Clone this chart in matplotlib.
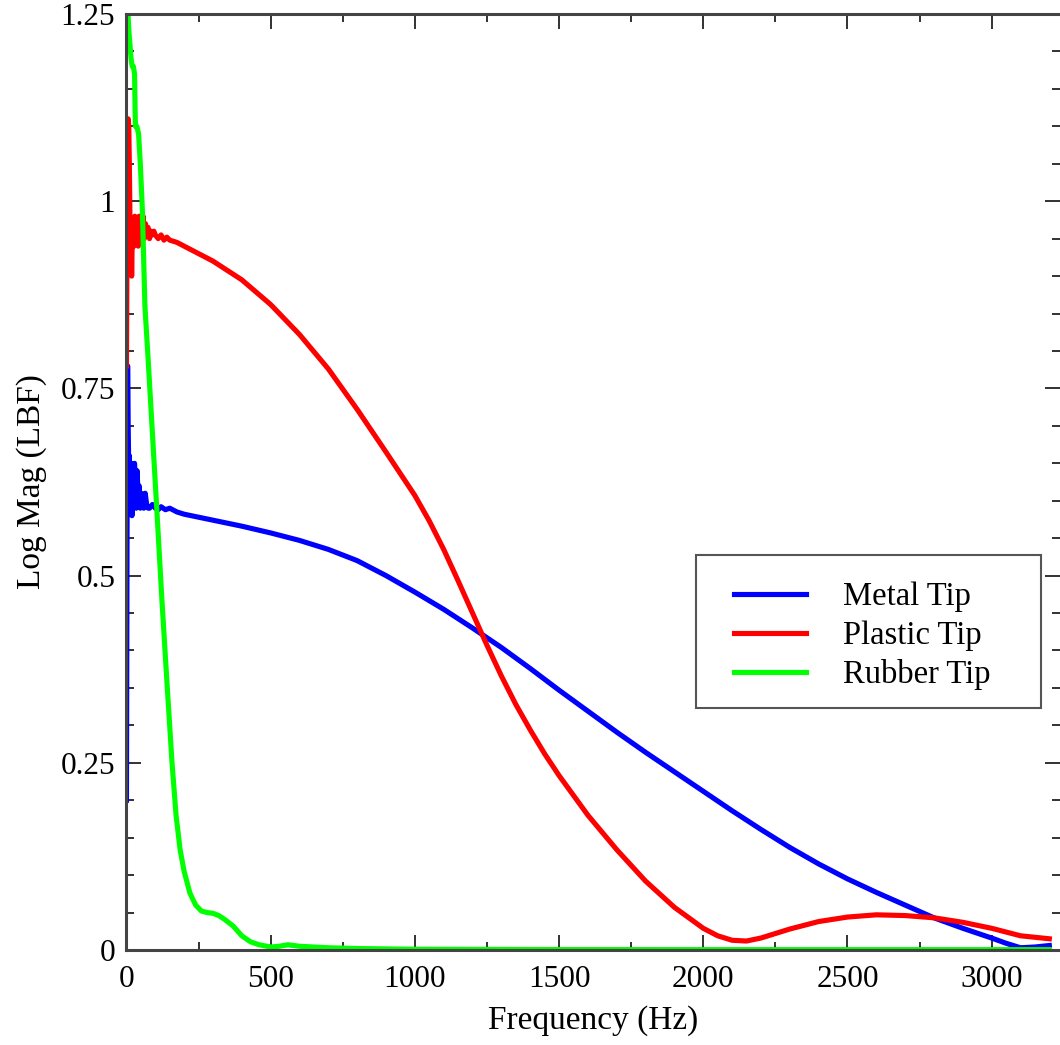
import matplotlib.pyplot as plt
from matplotlib.patches import Rectangle

plt.rcParams['font.family'] = ['Liberation Serif', 'DejaVu Serif']

# impact hammer tip spectra, read in Hz / log magnitude
metal_hz = [0, 2, 4, 6, 8, 10, 13, 16, 19, 22, 25, 28, 31, 34, 37, 40, 44, 48,
            52, 56, 60, 65, 70, 75, 80, 90, 100, 110, 120, 135, 150, 175, 200,
            250, 300, 400, 500, 600, 700, 800, 900, 1000, 1100, 1200, 1300,
            1400, 1500, 1600, 1700, 1800, 1900, 2000, 2100, 2200, 2300, 2400,
            2500, 2600, 2700, 2800, 2900, 3000, 3050, 3100, 3150, 3200]
metal_mag = [0.20, 0.55, 0.78, 0.70, 0.64, 0.66, 0.62, 0.65, 0.58, 0.64, 0.62,
             0.65, 0.63, 0.59, 0.64, 0.61, 0.62, 0.59, 0.61, 0.60, 0.59, 0.61,
             0.595, 0.59, 0.59, 0.595, 0.59, 0.588, 0.592, 0.588, 0.590, 0.585,
             0.582, 0.578, 0.574, 0.566, 0.557, 0.547, 0.535, 0.52, 0.50,
             0.478, 0.455, 0.43, 0.404, 0.376, 0.347, 0.319, 0.291, 0.264,
             0.238, 0.212, 0.186, 0.161, 0.137, 0.115, 0.095, 0.077, 0.06,
             0.043, 0.029, 0.016, 0.009, 0.003, 0.004, 0.006]

plastic_hz = [0, 2, 4, 6, 8, 10, 12, 14, 16, 18, 20, 23, 26, 29, 32, 35, 38, 41,
              44, 47, 50, 54, 58, 62, 66, 70, 75, 80, 85, 90, 95, 100, 110, 120,
              130, 140, 150, 175, 200, 250, 300, 400, 500, 600, 700, 800, 900,
              1000, 1050, 1100, 1150, 1200, 1250, 1300, 1350, 1400, 1450, 1500,
              1600, 1700, 1800, 1900, 2000, 2050, 2100, 2150, 2200, 2300, 2400,
              2500, 2600, 2700, 2800, 2900, 3000, 3100, 3200]
plastic_mag = [0.78, 0.95, 1.08, 1.11, 1.10, 1.05, 0.98, 0.92, 0.97, 0.90, 0.95,
               0.97, 0.94, 0.98, 0.96, 0.95, 0.97, 0.94, 0.98, 0.95, 0.97, 0.96,
               0.98, 0.95, 0.97, 0.96, 0.965, 0.95, 0.96, 0.955, 0.96, 0.955,
               0.95, 0.955, 0.948, 0.952, 0.948, 0.945, 0.94, 0.93, 0.92, 0.895,
               0.862, 0.822, 0.776, 0.722, 0.665, 0.607, 0.573, 0.535, 0.493,
               0.450, 0.407, 0.366, 0.328, 0.294, 0.262, 0.233, 0.180, 0.134,
               0.092, 0.057, 0.029, 0.019, 0.013, 0.012, 0.016, 0.028, 0.038,
               0.044, 0.047, 0.046, 0.043, 0.037, 0.029, 0.019, 0.015]

rubber_hz = [0, 4, 8, 12, 16, 20, 24, 28, 31, 36, 42, 48, 55, 64, 75, 90, 105,
             123, 140, 158, 172, 186, 200, 220, 240, 260, 280, 300, 320, 340,
             370, 400, 430, 460, 500, 530, 560, 600, 650, 700, 800, 1000, 1500,
             2000, 2500, 3000, 3200]
rubber_mag = [1.30, 1.26, 1.23, 1.21, 1.19, 1.18, 1.18, 1.17, 1.10, 1.10, 1.09,
              1.05, 0.99, 0.86, 0.79, 0.69, 0.59, 0.467, 0.36, 0.25, 0.18,
              0.134, 0.105, 0.076, 0.06, 0.052, 0.05, 0.049, 0.046, 0.041,
              0.032, 0.019, 0.011, 0.007, 0.004, 0.005, 0.007, 0.005, 0.004,
              0.003, 0.002, 0.001, 0.0006, 0.0005, 0.0005, 0.0005, 0.0005]

labels = ['Metal Tip', 'Plastic Tip', 'Rubber Tip']
colors = ['#0000ff', '#ff0000', '#00ff00']

fig = plt.figure(figsize=(10.6, 10.45), dpi=100)
ax = fig.add_axes([0.1193, 0.0909, 0.8807, 0.8957])

lines = []
for hz, mag, c in zip([metal_hz, plastic_hz, rubber_hz],
                      [metal_mag, plastic_mag, rubber_mag], colors):
    ln, = ax.plot(hz, mag, color=c, lw=3.7, solid_joinstyle='round')
    lines.append(ln)

ax.set_xlim(0, 3237)
ax.set_ylim(0, 1.25)
ax.set_xticks([0, 500, 1000, 1500, 2000, 2500, 3000])
ax.set_xticks(range(250, 3237, 500), minor=True)
ax.set_yticks([0, 0.25, 0.5, 0.75, 1, 1.25])
ax.set_yticklabels(['0', '0.25', '0.5', '0.75', '1', '1.25'])
ax.set_yticks([i * 0.05 for i in range(26)], minor=True)

ax.tick_params(which='both', direction='in', top=True, right=True,
               labelsize=22.5, width=1.3, color='#222222')
ax.tick_params(which='major', length=11)
ax.tick_params(which='minor', length=5.5)
ax.tick_params(axis='x', pad=11)
ax.tick_params(axis='y', pad=8)
for side in ['left', 'bottom', 'top']:
    ax.spines[side].set_linewidth(2.2)
    ax.spines[side].set_color('#444444')
ax.spines['right'].set_visible(False)

ax.set_xlabel('Frequency (Hz)', fontsize=24, labelpad=8)
ax.set_ylabel('Log Mag (LBF)', fontsize=24, labelpad=10)

# legend box drawn separately so its size follows the frame, not the text
ax.add_patch(Rectangle((0.610, 0.2585), 0.3696, 0.1635, transform=ax.transAxes,
                       facecolor='white', edgecolor='#555555', lw=1.5,
                       zorder=4))
leg = ax.legend(lines, labels, loc='upper left',
                bbox_to_anchor=(0.6508, 0.3932), frameon=False,
                fontsize=23.5, handlelength=2.2, handletextpad=1.15,
                labelspacing=0.25, borderpad=0, borderaxespad=0)
leg.set_zorder(5)

fig.savefig('out.png', dpi=100)
